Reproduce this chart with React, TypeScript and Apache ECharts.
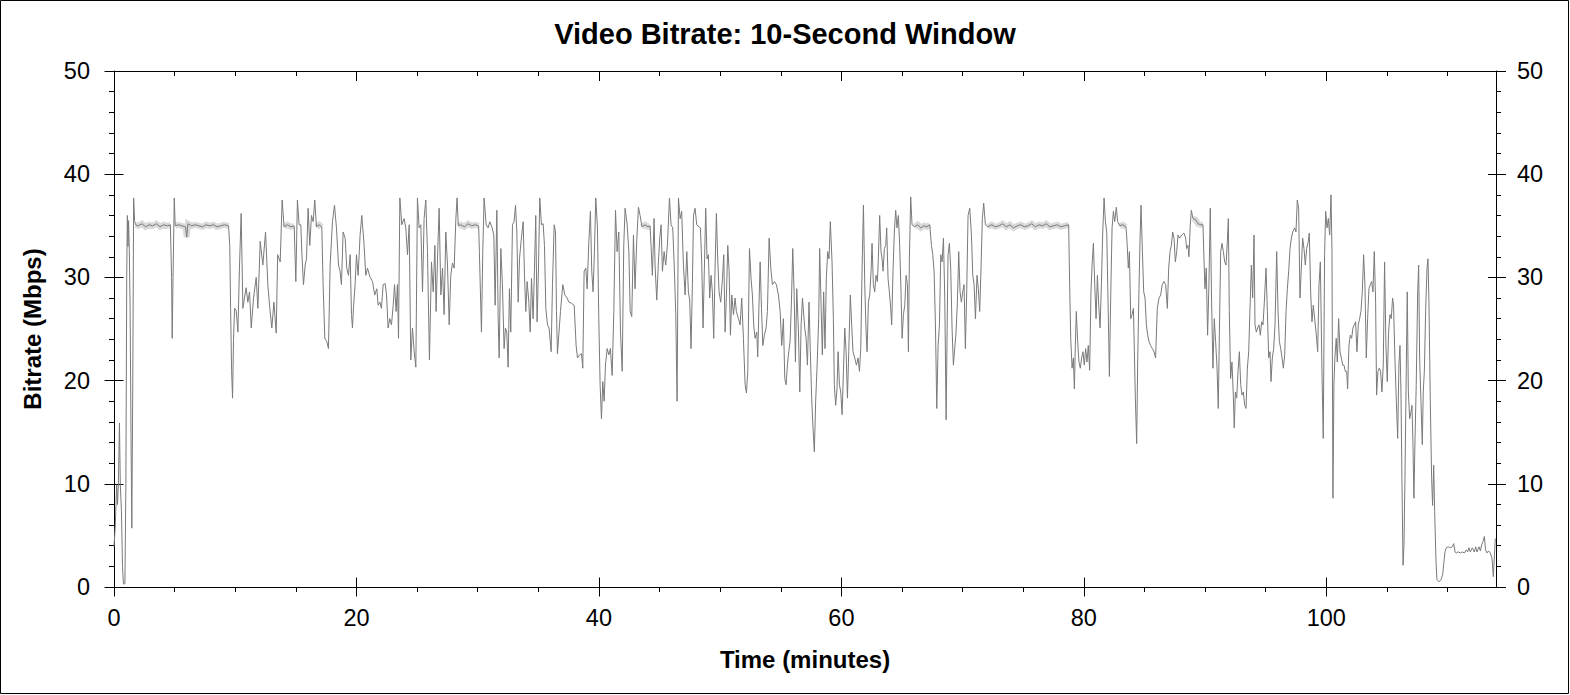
import React, { useEffect, useRef } from "react";
import * as echarts from "echarts";

const FONT = '"Liberation Sans", Arial, Helvetica, sans-serif';

const chartTitle = "Video Bitrate: 10-Second Window";
const xAxisTitle = "Time (minutes)";
const yAxisTitle = "Bitrate (Mbps)";
const xMajorTicks = [0, 20, 40, 60, 80, 100];
const xMinorTicks = [0, 5, 10, 15, 20, 25, 30, 35, 40, 45, 50, 55, 60, 65, 70, 75, 80, 85, 90, 95, 100, 105, 110];
const yMajorTicks = [0, 10, 20, 30, 40, 50];

// [minute, Mbps]
const bitrate0to14 = [[0.00,3.9],[0.10,5.8],[0.22,9.9],[0.29,8.0],[0.36,9.9],[0.45,15.9],[0.52,9.9],[0.61,7.5],[0.70,2.0],[0.78,0.3],[0.90,0.3],[0.98,10.0],[1.05,30.0],[1.10,36.0],[1.15,33.0],[1.20,35.5],[1.26,32.8],[1.33,27.0],[1.40,15.0],[1.47,5.7],[1.55,20.0],[1.62,37.7],[1.70,35.5],[1.78,35.1],[2.0,35.0],[2.3,35.2],[2.6,34.9],[2.9,35.1],[3.2,35.0],[3.5,35.2],[3.8,34.9],[4.1,35.1],[4.4,35.0],[4.65,35.1],[4.75,30.0],[4.80,24.1],[4.87,30.0],[4.97,37.7],[5.05,35.0],[5.3,35.1],[5.6,35.0],[5.9,34.9],[6.0,33.9],[6.1,35.2],[6.4,35.0],[6.7,35.1],[7.0,35.0],[7.3,34.9],[7.6,35.1],[7.9,35.0],[8.2,35.1],[8.5,34.9],[8.8,35.0],[9.1,35.1],[9.45,35.0],[9.55,33.0],[9.62,27.0],[9.70,21.0],[9.78,18.3],[9.86,24.0],[9.95,27.0],[10.08,26.8],[10.22,24.7],[10.35,31.0],[10.49,36.2],[10.63,27.0],[10.76,28.0],[10.90,29.0],[11.04,27.6],[11.18,28.6],[11.32,25.1],[11.51,28.0],[11.73,30.0],[11.87,27.0],[12.06,33.5],[12.28,31.2],[12.50,34.4],[12.69,29.3],[12.83,27.3],[13.02,25.1],[13.19,27.6],[13.38,24.6],[13.50,32.2],[13.71,31.5],[13.87,37.5]];

const bitrate14to28 = [[14.03,34.9],[14.3,35.1],[14.6,34.9],[14.86,35.0],[15.00,29.6],[15.13,37.5],[15.27,35.1],[15.41,35.1],[15.49,32.5],[15.63,29.3],[15.77,31.2],[15.88,31.8],[16.01,36.7],[16.15,33.1],[16.29,36.0],[16.43,35.4],[16.56,37.5],[16.70,34.9],[16.92,35.1],[17.14,34.9],[17.25,29.3],[17.39,24.1],[17.55,23.8],[17.69,23.1],[17.83,31.2],[18.02,35.4],[18.19,37.0],[18.35,34.8],[18.52,31.2],[18.65,30.6],[18.76,29.3],[18.90,34.4],[19.07,33.8],[19.20,30.9],[19.34,30.2],[19.48,32.2],[19.59,26.4],[19.67,25.1],[19.75,27.0],[19.89,29.3],[20.00,32.2],[20.14,30.2],[20.30,34.1],[20.44,36.0],[20.61,33.5],[20.77,30.2],[20.91,30.9],[21.10,30.1],[21.32,29.6],[21.51,28.3],[21.68,28.9],[21.79,27.3],[21.93,27.6],[22.06,27.0],[22.20,29.3],[22.37,29.4],[22.48,28.3],[22.61,25.1],[22.75,26.0],[22.89,25.4],[23.03,27.3],[23.14,29.3],[23.27,26.7],[23.38,29.3],[23.47,24.1],[23.58,37.7],[23.74,35.1],[23.93,35.7],[24.07,34.8],[24.21,32.2],[24.35,35.1],[24.48,22.0],[24.62,25.1],[24.76,22.8],[24.90,21.3],[25.03,37.7],[25.17,34.8],[25.31,35.1],[25.45,28.6],[25.58,35.7],[25.72,37.5],[25.86,32.5],[26.02,22.0],[26.19,31.5],[26.33,28.6],[26.47,33.1],[26.57,26.7],[26.71,32.8],[26.82,36.7],[26.96,28.3],[27.10,30.9],[27.23,26.4],[27.37,34.4],[27.51,31.2],[27.65,25.4],[27.78,30.2],[27.92,31.4],[28.06,30.9],[28.20,35.7],[28.30,37.7]];

const bitrate28to42 = [[28.40,35.0],[28.6,35.1],[28.9,34.9],[29.2,35.2],[29.5,35.0],[29.8,35.1],[30.08,35.0],[30.14,32.5],[30.31,24.7],[30.42,32.5],[30.53,37.7],[30.70,35.1],[30.86,34.8],[31.00,35.4],[31.19,34.8],[31.33,34.1],[31.44,27.3],[31.58,36.5],[31.69,26.0],[31.77,22.2],[31.91,32.8],[32.04,29.3],[32.18,23.1],[32.29,25.1],[32.40,24.7],[32.51,21.3],[32.62,28.9],[32.73,24.7],[32.87,35.1],[33.00,35.4],[33.12,37.0],[33.23,34.4],[33.34,27.6],[33.45,31.8],[33.58,33.5],[33.75,35.4],[33.86,30.2],[33.97,26.7],[34.08,29.6],[34.22,27.6],[34.33,24.7],[34.44,29.9],[34.57,26.0],[34.68,30.6],[34.79,36.0],[34.90,25.7],[35.01,30.6],[35.12,37.7],[35.26,35.1],[35.40,35.2],[35.51,33.1],[35.62,27.0],[35.76,25.4],[35.89,25.1],[36.06,22.8],[36.17,29.3],[36.31,35.1],[36.42,34.4],[36.50,26.7],[36.58,22.6],[36.69,24.4],[36.83,26.7],[37.02,29.3],[37.19,28.3],[37.38,28.0],[37.52,27.6],[37.74,27.5],[37.96,27.3],[38.12,23.4],[38.23,22.2],[38.40,22.5],[38.56,22.6],[38.67,21.2],[38.78,30.6],[38.92,30.9],[39.03,28.9],[39.17,33.5],[39.30,36.4],[39.41,30.6],[39.52,28.6],[39.63,32.5],[39.74,37.7],[39.88,34.8],[39.99,26.0],[40.10,19.6],[40.21,16.3],[40.32,19.9],[40.43,18.0],[40.54,21.5],[40.68,23.1],[40.82,22.5],[40.95,23.1],[41.09,20.5],[41.23,26.7],[41.37,36.5],[41.50,32.5],[41.64,34.4],[41.78,24.7],[41.92,20.9],[42.05,33.1],[42.16,36.7],[42.33,35.1],[42.47,32.5],[42.58,26.7]];

const bitrate42to57 = [[42.71,26.2],[42.85,34.1],[42.98,28.9],[43.12,33.5],[43.26,36.8],[43.40,36.0],[43.55,34.9],[43.8,35.1],[44.05,34.9],[44.22,35.0],[44.30,33.1],[44.41,30.2],[44.55,35.7],[44.63,31.2],[44.77,27.8],[44.91,31.5],[45.02,33.8],[45.13,35.1],[45.24,30.6],[45.38,32.5],[45.51,31.2],[45.65,33.1],[45.82,37.7],[45.95,35.1],[46.09,34.8],[46.23,30.6],[46.34,26.4],[46.45,18.0],[46.56,37.7],[46.70,35.7],[46.83,36.4],[46.97,31.2],[47.11,28.3],[47.25,32.5],[47.38,28.6],[47.49,27.8],[47.60,23.1],[47.71,29.3],[47.80,36.0],[47.93,36.7],[48.07,35.1],[48.26,34.9],[48.37,34.8],[48.48,31.5],[48.59,25.1],[48.70,30.9],[48.81,36.7],[48.92,31.8],[49.03,32.2],[49.14,28.0],[49.25,30.2],[49.36,28.6],[49.47,24.1],[49.58,30.9],[49.69,36.2],[49.80,31.8],[49.91,28.6],[50.05,27.6],[50.19,29.9],[50.30,32.2],[50.41,24.7],[50.52,28.3],[50.63,33.1],[50.74,30.6],[50.85,24.4],[50.96,28.3],[51.10,26.4],[51.23,28.0],[51.34,26.7],[51.51,26.0],[51.65,25.4],[51.78,28.0],[51.92,24.1],[52.06,19.6],[52.17,18.8],[52.28,20.9],[52.42,32.8],[52.55,29.9],[52.66,28.3],[52.77,25.4],[52.88,24.1],[53.02,24.7],[53.10,22.3],[53.21,27.6],[53.30,31.5],[53.41,27.0],[53.52,23.4],[53.65,24.4],[53.79,25.1],[53.90,26.7],[54.04,33.8],[54.18,30.9],[54.31,29.3],[54.48,29.6],[54.64,29.3],[54.81,28.3],[54.95,26.7],[55.08,23.4],[55.22,26.0],[55.33,20.2],[55.44,19.6],[55.55,21.5],[55.66,22.8],[55.77,23.8],[55.88,27.6],[55.99,32.8],[56.10,28.6],[56.21,21.8],[56.32,28.9],[56.46,24.7],[56.57,18.9],[56.68,25.4],[56.79,28.0]];

const bitrate57to71 = [[56.98,25.1],[57.09,24.1],[57.20,21.5],[57.33,27.6],[57.44,22.8],[57.55,18.3],[57.66,15.4],[57.77,13.1],[57.88,18.0],[57.99,21.2],[58.13,26.0],[58.21,32.8],[58.32,27.6],[58.43,22.5],[58.54,28.6],[58.65,23.1],[58.76,29.9],[58.87,32.5],[58.98,31.8],[59.09,35.4],[59.23,31.5],[59.34,26.0],[59.42,19.6],[59.53,17.6],[59.64,19.2],[59.73,22.8],[59.84,19.6],[59.95,18.9],[60.06,16.7],[60.17,20.9],[60.28,25.1],[60.39,22.8],[60.50,18.3],[60.61,22.8],[60.74,28.3],[60.85,25.4],[60.96,22.8],[61.10,22.2],[61.24,21.5],[61.38,22.2],[61.49,20.9],[61.60,23.1],[61.71,30.9],[61.82,37.0],[61.93,29.3],[62.04,24.7],[62.12,22.8],[62.23,27.6],[62.34,28.3],[62.45,30.6],[62.53,33.3],[62.64,29.3],[62.75,28.6],[62.86,30.2],[62.97,29.6],[63.05,31.8],[63.16,36.0],[63.27,32.5],[63.36,31.8],[63.44,30.6],[63.55,32.8],[63.66,33.1],[63.74,34.8],[63.85,29.9],[63.96,28.6],[64.07,27.0],[64.15,25.4],[64.26,30.6],[64.37,34.4],[64.48,36.5],[64.59,34.8],[64.70,36.0],[64.81,33.1],[64.92,28.6],[65.01,24.1],[65.12,26.4],[65.23,27.3],[65.34,30.2],[65.45,29.3],[65.53,22.8],[65.61,31.8],[65.72,37.8],[65.83,35.1],[66.05,34.9],[66.3,35.1],[66.55,34.8],[66.8,35.0],[67.05,34.9],[67.29,35.1],[67.43,33.1],[67.54,32.2],[67.65,30.6],[67.76,25.4],[67.87,17.3],[67.98,23.4],[68.09,25.4],[68.20,32.2],[68.31,31.5],[68.42,33.8],[68.53,28.0],[68.64,16.2],[68.72,24.7],[68.80,32.2],[68.91,33.3],[69.02,30.9],[69.13,25.1],[69.24,21.5],[69.35,23.1],[69.46,24.7],[69.57,27.6],[69.68,32.5],[69.79,28.6],[69.90,27.6],[70.01,28.6],[70.12,29.3],[70.23,23.1],[70.34,28.6],[70.45,36.0],[70.59,36.7],[70.73,34.1],[70.84,30.2],[70.95,29.3],[71.06,26.0]];

const bitrate71to85 = [[71.19,30.2],[71.30,28.9],[71.41,26.7],[71.52,30.9],[71.63,35.7],[71.74,37.2],[71.88,35.1],[72.07,34.9],[72.4,35.1],[72.7,34.9],[73.0,35.0],[73.3,35.2],[73.6,34.9],[73.9,35.1],[74.2,34.8],[74.5,35.0],[74.8,35.1],[75.1,34.9],[75.4,35.0],[75.7,35.2],[76.0,34.9],[76.3,35.1],[76.6,35.0],[76.9,35.2],[77.2,34.9],[77.5,35.0],[77.8,35.1],[78.1,34.9],[78.4,35.0],[78.75,35.1],[78.83,29.3],[78.92,24.1],[79.03,21.2],[79.14,22.2],[79.22,19.2],[79.30,23.4],[79.38,26.7],[79.49,23.8],[79.60,21.8],[79.71,21.2],[79.82,22.2],[79.93,22.8],[80.04,21.5],[80.15,23.1],[80.26,21.8],[80.37,23.4],[80.48,21.0],[80.59,28.6],[80.68,31.2],[80.79,33.3],[80.90,29.3],[81.01,26.0],[81.12,30.2],[81.23,27.3],[81.34,25.1],[81.45,29.3],[81.56,34.4],[81.67,37.7],[81.78,35.4],[81.89,34.4],[82.00,27.6],[82.11,20.4],[82.22,28.3],[82.33,34.8],[82.44,36.4],[82.55,35.4],[82.68,36.8],[82.79,35.4],[82.96,35.0],[83.2,35.1],[83.48,34.9],[83.56,33.5],[83.67,30.9],[83.76,32.5],[83.87,26.0],[83.98,26.4],[84.09,27.0],[84.17,22.8],[84.25,18.3],[84.36,13.9],[84.44,21.5],[84.55,28.9],[84.64,33.8],[84.72,37.0],[84.83,32.5],[84.94,28.6],[85.05,28.0],[85.16,25.4],[85.27,24.4]];

const bitrate85to100 = [[85.37,23.8],[85.51,23.4],[85.65,23.1],[85.79,22.8],[85.92,22.2],[86.06,27.0],[86.20,28.0],[86.34,28.3],[86.47,29.3],[86.61,29.6],[86.75,29.3],[86.89,27.0],[87.00,30.9],[87.11,32.5],[87.22,33.1],[87.33,34.4],[87.44,33.8],[87.55,31.5],[87.66,32.5],[87.77,34.1],[87.90,33.8],[88.07,34.1],[88.26,34.3],[88.40,33.8],[88.48,32.8],[88.59,33.1],[88.67,32.0],[88.78,35.1],[88.87,36.5],[89.00,35.7],[89.22,35.6],[89.42,35.2],[89.64,35.1],[89.83,35.1],[89.91,31.8],[89.99,28.9],[90.10,30.9],[90.21,24.4],[90.32,29.3],[90.43,36.7],[90.54,27.6],[90.65,21.2],[90.76,26.0],[90.87,23.8],[90.98,21.5],[91.09,17.3],[91.18,24.4],[91.29,32.5],[91.40,33.3],[91.51,32.5],[91.62,31.5],[91.73,31.2],[91.84,33.5],[91.92,35.7],[92.00,26.7],[92.11,20.2],[92.22,21.8],[92.33,18.6],[92.41,15.4],[92.50,18.9],[92.61,18.3],[92.72,20.9],[92.83,22.8],[92.94,19.6],[93.05,18.6],[93.16,18.9],[93.27,17.6],[93.38,17.3],[93.49,21.2],[93.60,22.8],[93.71,27.0],[93.82,31.2],[93.93,28.0],[94.04,34.1],[94.12,25.4],[94.23,24.7],[94.34,25.1],[94.45,25.4],[94.56,24.4],[94.67,25.7],[94.78,25.4],[94.89,27.6],[95.03,30.9],[95.14,26.7],[95.25,22.2],[95.36,22.8],[95.44,19.9],[95.55,22.2],[95.66,23.1],[95.77,25.4],[95.91,32.5],[96.02,26.7],[96.13,23.8],[96.24,23.1],[96.35,22.2],[96.46,21.2],[96.57,22.5],[96.68,26.7],[96.79,28.9],[96.90,30.6],[97.01,32.8],[97.12,33.8],[97.23,34.4],[97.39,34.8],[97.50,34.4],[97.61,37.5],[97.72,36.7],[97.83,28.0],[97.94,30.9],[98.05,33.8],[98.16,32.8],[98.27,31.2],[98.38,32.8],[98.49,33.3],[98.60,34.3],[98.71,28.6],[98.82,25.7],[98.93,27.3],[99.04,26.0],[99.18,24.4],[99.29,22.8],[99.40,29.3],[99.51,31.5]];

const bitrate100to114 = [[99.64,21.2],[99.75,14.4],[99.86,32.2],[99.95,36.4],[100.06,34.8],[100.17,35.7],[100.28,34.1],[100.39,38.0],[100.47,32.5],[100.55,8.6],[100.63,19.6],[100.71,22.2],[100.82,24.1],[100.91,21.8],[101.02,26.0],[101.13,22.8],[101.24,22.2],[101.35,21.5],[101.46,21.5],[101.57,20.9],[101.68,20.9],[101.76,19.2],[101.87,23.4],[101.98,24.4],[102.09,24.1],[102.20,25.1],[102.31,25.4],[102.42,25.7],[102.53,22.8],[102.64,25.4],[102.75,26.0],[102.86,26.7],[102.97,28.6],[103.08,32.2],[103.19,29.3],[103.30,22.2],[103.41,26.0],[103.52,28.9],[103.63,29.3],[103.74,29.6],[103.85,28.6],[103.96,32.5],[104.07,27.6],[104.15,18.6],[104.26,20.9],[104.37,21.2],[104.48,20.9],[104.59,18.9],[104.70,21.5],[104.81,31.5],[104.92,23.4],[105.03,19.9],[105.14,24.7],[105.25,26.4],[105.36,26.0],[105.47,28.0],[105.55,27.3],[105.66,22.2],[105.78,18.0],[105.89,14.4],[105.99,21.5],[106.08,23.4],[106.16,18.9],[106.24,10.5],[106.33,2.1],[106.41,4.1],[106.49,10.5],[106.60,21.2],[106.68,28.6],[106.77,18.9],[106.88,16.3],[106.99,17.0],[107.07,17.6],[107.15,13.8],[107.23,8.6],[107.32,14.4],[107.42,19.6],[107.54,28.6],[107.62,31.2],[107.70,22.2],[107.81,18.0],[107.92,13.8],[108.00,18.9],[108.09,20.9],[108.20,27.0],[108.31,30.9],[108.39,31.8],[108.47,27.6],[108.58,18.0],[108.69,10.5],[108.77,7.9],[108.86,11.8],[108.94,7.3],[109.05,2.5],[109.13,0.7],[109.30,0.5],[109.46,0.7],[109.60,1.2],[109.71,2.5],[109.79,3.4],[109.90,3.8],[110.06,3.9],[110.23,3.8],[110.39,3.9],[110.51,4.2],[110.62,3.4],[110.73,3.3],[110.89,3.4],[111.06,3.3],[111.22,3.4],[111.39,3.3],[111.55,3.6],[111.66,3.4],[111.77,3.8],[111.88,3.4],[112.04,3.8],[112.21,3.4],[112.32,3.9],[112.43,3.4],[112.60,3.9],[112.71,3.5],[112.82,4.1],[112.93,4.4],[113.04,4.9],[113.14,3.6],[113.25,3.3],[113.39,3.5],[113.53,3.3],[113.67,2.8],[113.78,1.0],[113.86,2.8],[113.94,4.7]];

// minute ranges where the bitrate sits at its ceiling (drawn with the light envelope)
const steadyRanges = [[1.75,4.7],[5.02,9.47],[14.0,14.9],[16.65,17.16],[28.38,30.1],[43.5,44.24],[66.0,67.3],[71.9,78.77],[82.9,83.5],[88.95,89.85]];

const bitrate = [
  ...bitrate0to14, ...bitrate14to28, ...bitrate28to42, ...bitrate42to57,
  ...bitrate57to71, ...bitrate71to85, ...bitrate85to100, ...bitrate100to114,
];

const BLACK = "#000000";

function xAxisDef(position: "top" | "bottom", opts: any) {
  return {
    type: "value",
    position,
    min: 0,
    max: 114,
    splitLine: { show: false },
    axisLine: { show: false, onZero: false, lineStyle: { color: BLACK, width: 1 } },
    axisLabel: { show: false },
    ...opts,
  };
}

function yAxisDef(position: "left" | "right", opts: any) {
  return {
    type: "value",
    position,
    min: 0,
    max: 50,
    interval: 10,
    splitLine: { show: false },
    axisLine: { show: false, onZero: false, lineStyle: { color: BLACK, width: 1 } },
    axisLabel: { show: false },
    ...opts,
  };
}

const tickLabelStyle = { color: BLACK, fontSize: 23.5, fontFamily: FONT };
const nameStyle = { color: BLACK, fontSize: 24, fontWeight: "bold", fontFamily: FONT };

export default function App() {
  const ref = useRef<HTMLDivElement>(null);
  useEffect(() => {
    document.body.style.margin = "0";
    const chart = echarts.init(ref.current as HTMLDivElement, null, { renderer: "svg" });

    const bandSeries = steadyRanges.map((r) => ({
      type: "line",
      xAxisIndex: 0,
      yAxisIndex: 0,
      data: bitrate.filter((p) => p[0] >= r[0] && p[0] <= r[1]),
      showSymbol: false,
      symbol: "none",
      silent: true,
      z: 2,
      lineStyle: { color: "#dadada", width: 6, cap: "butt", join: "miter" },
    }));

    const option: any = {
      animation: false,
      backgroundColor: "#ffffff",
      title: {
        text: chartTitle,
        left: "center",
        top: 14,
        textStyle: { color: BLACK, fontSize: 29, fontWeight: "bold", fontFamily: FONT },
      },
      grid: { left: 114, right: 74, top: 71, bottom: 108, containLabel: false },
      xAxis: [
        xAxisDef("bottom", {
          axisLine: { show: true, onZero: false, lineStyle: { color: BLACK, width: 1 } },
          axisTick: { show: true, inside: false, length: 9.5, customValues: xMajorTicks, lineStyle: { color: BLACK, width: 1 } },
          axisLabel: { show: true, customValues: xMajorTicks, margin: 19, ...tickLabelStyle },
          name: xAxisTitle,
          nameLocation: "middle",
          nameGap: 60,
          nameTextStyle: nameStyle,
        }),
        xAxisDef("bottom", {
          axisTick: { show: true, inside: true, length: 9.5, customValues: xMajorTicks, lineStyle: { color: BLACK, width: 1 } },
        }),
        xAxisDef("bottom", {
          axisTick: { show: true, inside: false, length: 5, customValues: xMinorTicks, lineStyle: { color: BLACK, width: 1 } },
        }),
        xAxisDef("top", {
          axisLine: { show: true, onZero: false, lineStyle: { color: BLACK, width: 1 } },
          axisTick: { show: true, inside: true, length: 10, customValues: xMajorTicks, lineStyle: { color: BLACK, width: 1 } },
        }),
        xAxisDef("top", {
          axisTick: { show: true, inside: true, length: 5, customValues: xMinorTicks, lineStyle: { color: BLACK, width: 1 } },
        }),
      ],
      yAxis: [
        yAxisDef("left", {
          axisLine: { show: true, onZero: false, lineStyle: { color: BLACK, width: 1 } },
          axisTick: { show: true, inside: false, length: 9.5, lineStyle: { color: BLACK, width: 1 } },
          minorTick: { show: true, splitNumber: 5, length: 5, lineStyle: { color: BLACK, width: 1 } },
          axisLabel: { show: true, customValues: yMajorTicks, margin: 24, ...tickLabelStyle },
          name: yAxisTitle,
          nameLocation: "middle",
          nameGap: 70,
          nameTextStyle: nameStyle,
        }),
        yAxisDef("left", {
          axisTick: { show: true, inside: true, length: 9.5, lineStyle: { color: BLACK, width: 1 } },
        }),
        yAxisDef("right", {
          axisLine: { show: true, onZero: false, lineStyle: { color: BLACK, width: 1 } },
          axisTick: { show: true, inside: false, length: 10, lineStyle: { color: BLACK, width: 1 } },
          minorTick: { show: true, splitNumber: 5, length: 5, lineStyle: { color: BLACK, width: 1 } },
          axisLabel: { show: true, customValues: yMajorTicks, margin: 21, ...tickLabelStyle },
        }),
        yAxisDef("right", {
          axisTick: { show: true, inside: true, length: 8, lineStyle: { color: BLACK, width: 1 } },
        }),
      ],
      series: [
        ...bandSeries,
        {
          type: "line",
          xAxisIndex: 0,
          yAxisIndex: 0,
          data: bitrate,
          showSymbol: false,
          symbol: "none",
          silent: true,
          z: 3,
          lineStyle: { color: "#7a7a7a", width: 1 },
        },
      ],
      graphic: [
        {
          type: "rect",
          silent: true,
          shape: { x: 0.5, y: 0.5, width: 1568, height: 693 },
          style: { fill: "none", stroke: BLACK, lineWidth: 1 },
          z: 100,
        },
      ],
    };

    chart.setOption(option);
    return () => chart.dispose();
  }, []);

  return <div ref={ref} style={{ width: 1570, height: 695 }} />;
}
